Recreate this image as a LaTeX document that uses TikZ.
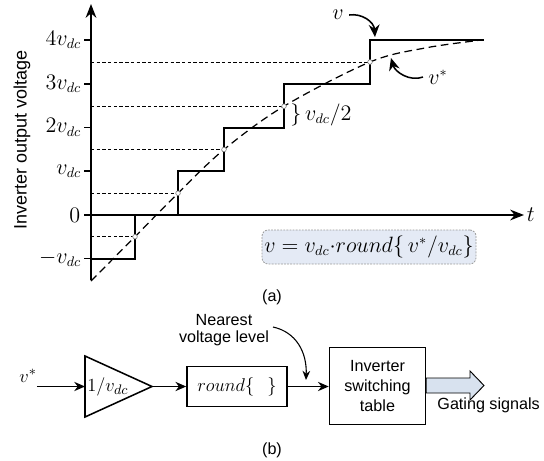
\documentclass[tikz,border=0pt]{standalone}
\usepackage{fontspec}
\setsansfont{Liberation Sans}
\usetikzlibrary{arrows.meta}
\definecolor{boxfill}{HTML}{E4EAF5}
\definecolor{boxline}{HTML}{9A9A9A}
\definecolor{arrowfill}{HTML}{D8E2EF}
\tikzset{
  axisline/.style={line width=0.9pt},
  stairs/.style={line width=1.3pt, line join=miter},
  halflevel/.style={line width=0.6pt, dash pattern=on 2.2pt off 1.5pt},
  refcurve/.style={line width=0.8pt, dash pattern=on 5pt off 3pt},
  crossdot/.style={circle, draw=gray, fill=white, line width=0.4pt, inner sep=0pt, minimum size=3pt},
  lvl/.style={anchor=east, font=\fontsize{13.5}{15}\selectfont, inner sep=1pt},
  bigmath/.style={font=\fontsize{13.5}{15}\selectfont},
  sflabel/.style={font=\sffamily\fontsize{10.5}{12.5}\selectfont, align=center},
  blockbox/.style={draw, line width=1pt, inner sep=0pt},
  sigarrow/.style={line width=1pt, -{Stealth[length=7pt, width=6pt]}},
  notearrow/.style={line width=0.7pt, -{Stealth[length=6pt, width=5pt]}},
}
\begin{document}
\begin{tikzpicture}[x=0.65pt, y=-0.65pt]
\useasboundingbox (0,0) rectangle (544,461);

% ---------- (a) axes ----------
\draw[axisline, -{Stealth[length=9pt, width=7pt]}] (91,280) -- (91,4);
\draw[axisline, -{Stealth[length=9pt, width=7pt]}] (84,215) -- (524,215);
\node[bigmath, anchor=west, inner sep=1pt] (tlab) at (525,215) {$t$};

% level ticks and labels
\foreach \yy/\lab in {40/{4v_{dc}}, 84/{3v_{dc}}, 127.5/{2v_{dc}}, 171/{v_{dc}}, 258.5/{-v_{dc}}} {
  \draw[axisline] (84,\yy) -- (91,\yy);
  \node[lvl] at (83,\yy) {$\lab$};
}
\node[lvl] (zero) at (82,215) {$0$};

% half-level guide lines
\draw[halflevel] (91,236.7) -- (135,236.7);
\draw[halflevel] (91,193.2) -- (178,193.2);
\draw[halflevel] (91,149.5) -- (224,149.5);
\draw[halflevel] (91,106.2) -- (284,106.2);
\draw[halflevel] (91,62) -- (370,62);

% reference voltage v*
\draw[refcurve] plot[smooth, tension=0.55] coordinates {
  (91,281) (135,236.7) (178,193.2) (224,149.5) (284,106.2) (370,62) (425,48) (478,40.5)};

% staircase output v
\draw[stairs] (91,258.5) -- (135,258.5) -- (135,215) -- (178,215) -- (178,171)
  -- (224,171) -- (224,127.5) -- (284,127.5) -- (284,84) -- (370,84) -- (370,40) -- (484,40);

% crossing points
\foreach \xx/\yy in {135/236.7, 178/193.2, 224/149.5, 284/106.2, 370/62}
  \node[crossdot] at (\xx,\yy) {};

% annotations
\node[bigmath, anchor=west, inner sep=0pt] (half) at (290,115) {$\}\,v_{dc}/2$};
\node[bigmath] (vlab) at (338,15) {$v$};
\coordinate (vtip) at (375,37);
\draw[line width=1pt, -{Stealth[length=8pt, width=7pt]}] (vlab.east) .. controls (362,13) and (374,22) .. (vtip);
\node[bigmath] (vslab) at (438,77) {$v^{*}$};
\coordinate (vstip) at (391,58);
\draw[line width=1pt, -{Stealth[length=8pt, width=7pt]}] (vslab.west) .. controls (410,82) and (395,72) .. (vstip);

\node[bigmath, draw=boxline, dash pattern=on 1.2pt off 0.8pt, line width=0.5pt, fill=boxfill,
  rounded corners=4pt, minimum width=214*0.65pt, minimum height=34*0.65pt, inner sep=0pt]
  (law) at (369,247) {$v = v_{dc}{\cdot}round\{\,v^{*}/v_{dc}\}$};

\node[rotate=90, font=\sffamily\fontsize{11.7}{13}\selectfont] (ylab) at (22,140) {Inverter output voltage};
\node[sflabel] (capa) at (272,297) {(a)};

% ---------- (b) block diagram ----------
\node[font=\fontsize{13}{15}\selectfont] (vin) at (28,376) {$v^{*}$};
\coordinate (vinstart) at (37,386.5);
\coordinate (triL) at (85,386.5);
\coordinate (triTop) at (85,356);
\coordinate (triBot) at (85,417);
\coordinate (triApex) at (152,386.5);
\draw[line width=1pt, line join=miter] (triTop) -- (triApex) -- (triBot) -- cycle;
\node[font=\fontsize{13}{15}\selectfont, anchor=west, inner sep=0pt] (gain) at (87,386.5) {$1/v_{dc}$};
\draw[sigarrow] (vinstart) -- (triL);

\node[blockbox, minimum width=100*0.65pt, minimum height=40*0.65pt, font=\fontsize{13}{15}\selectfont]
  (rnd) at (237,386.5) {$round\{\ \ \}$};
\draw[sigarrow] (triApex) -- (rnd.west);

\node[blockbox, minimum width=96*0.65pt, minimum height=77*0.65pt, sflabel, font=\sffamily\fontsize{10.5}{13}\selectfont]
  (tab) at (377.5,386) {Inverter\\switching\\table};
\draw[sigarrow] (rnd.east) -- (rnd.east -| tab.west);

% hollow output arrow
\draw[line width=0.6pt, fill=arrowfill, line join=miter]
  (tab.east |- 0,378) -- (470,378) -- (470,371) -- (484,385.5) -- (470,400) -- (470,393) -- (tab.east |- 0,393) -- cycle;
\node[sflabel, anchor=west] (gate) at (432,405) {Gating signals};

\node[sflabel] (near) at (224,330) {Nearest\\[-1pt]voltage level};
\coordinate (neartip) at (306,380);
\draw[notearrow] (273,327) .. controls (296,332) and (307,352) .. (neartip);

\node[sflabel] (capb) at (272,450) {(b)};
\end{tikzpicture}
\end{document}
